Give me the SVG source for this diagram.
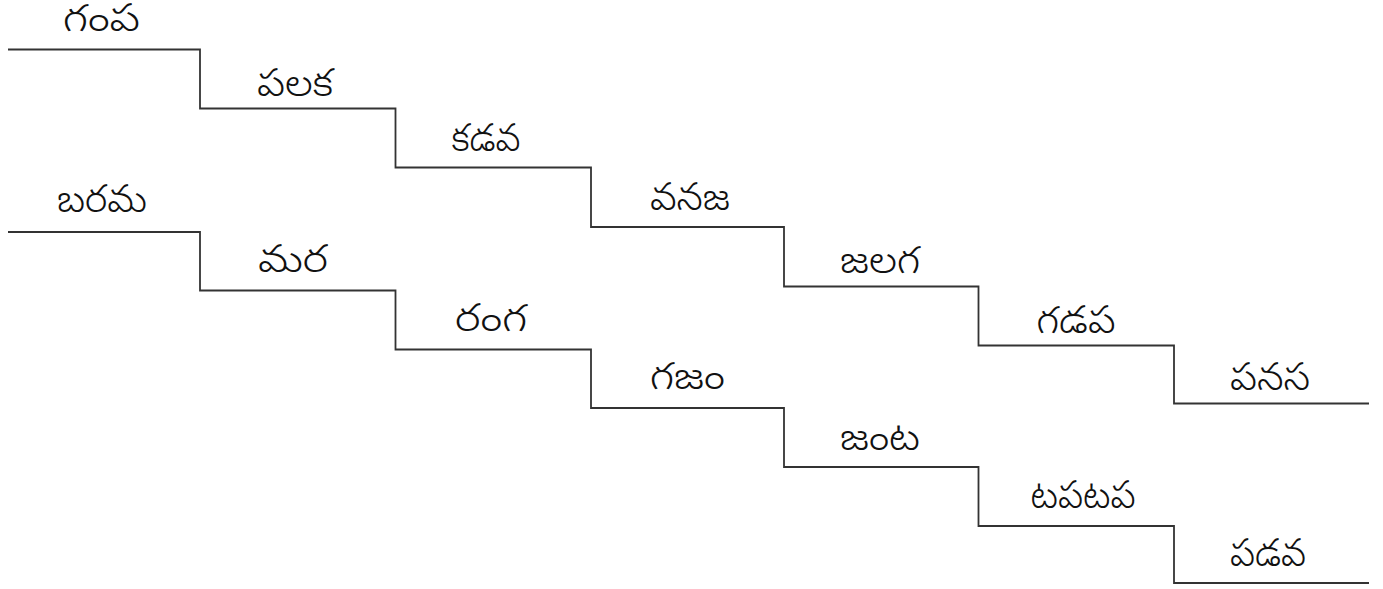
<svg xmlns="http://www.w3.org/2000/svg" width="1383" height="589" viewBox="0 0 1383 589">
<style>
.bg{fill:#ffffff}
.stair{fill:none;stroke:#333333;stroke-width:1.8}
.lbl{font-family:"Noto Sans Telugu","Noto Sans","DejaVu Sans",sans-serif;font-size:38px;font-weight:300;fill:#111111;text-anchor:middle}
</style>
<rect class="bg" x="0" y="0" width="1383" height="589"/>
<g id="connectors">
<polyline id="stair-1" class="stair" points="8,49.5 200,49.5 200,108.5 395.5,108.5 395.5,167.5 591,167.5 591,227 784,227 784,286.5 978.5,286.5 978.5,345.5 1174,345.5 1174,403.5 1369,403.5"/>
<polyline id="stair-2" class="stair" points="8,232 200,232 200,290.5 395.5,290.5 395.5,349.5 591,349.5 591,408 784,408 784,467 978.5,467 978.5,526 1174,526 1174,583 1369,583"/>
</g>
<g id="n-gampa"><text class="lbl" x="101.5" y="31" textLength="77" lengthAdjust="spacingAndGlyphs">గంప</text></g>
<g id="n-palaka"><text class="lbl" x="295" y="96" textLength="76" lengthAdjust="spacingAndGlyphs">పలక</text></g>
<g id="n-kadava"><text class="lbl" x="486" y="151" textLength="69" lengthAdjust="spacingAndGlyphs">కడవ</text></g>
<g id="n-vanaja"><text class="lbl" x="690" y="210" textLength="80" lengthAdjust="spacingAndGlyphs">వనజ</text></g>
<g id="n-jalaga"><text class="lbl" x="880" y="273" textLength="80" lengthAdjust="spacingAndGlyphs">జలగ</text></g>
<g id="n-gadapa"><text class="lbl" x="1076" y="333" textLength="79" lengthAdjust="spacingAndGlyphs">గడప</text></g>
<g id="n-panasa"><text class="lbl" x="1270" y="390" textLength="80" lengthAdjust="spacingAndGlyphs">పనస</text></g>
<g id="n-barama"><text class="lbl" x="102" y="212" textLength="90" lengthAdjust="spacingAndGlyphs">బరమ</text></g>
<g id="n-mara"><text class="lbl" x="293" y="272" textLength="70" lengthAdjust="spacingAndGlyphs">మర</text></g>
<g id="n-ranga"><text class="lbl" x="491" y="331" textLength="72" lengthAdjust="spacingAndGlyphs">రంగ</text></g>
<g id="n-gajam"><text class="lbl" x="687.5" y="389" textLength="75" lengthAdjust="spacingAndGlyphs">గజం</text></g>
<g id="n-janta"><text class="lbl" x="880" y="450" textLength="80" lengthAdjust="spacingAndGlyphs">జంట</text></g>
<g id="n-tapatapa"><text class="lbl" x="1083" y="508" textLength="105" lengthAdjust="spacingAndGlyphs">టపటప</text></g>
<g id="n-padava"><text class="lbl" x="1268" y="566" textLength="76" lengthAdjust="spacingAndGlyphs">పడవ</text></g>
</svg>
